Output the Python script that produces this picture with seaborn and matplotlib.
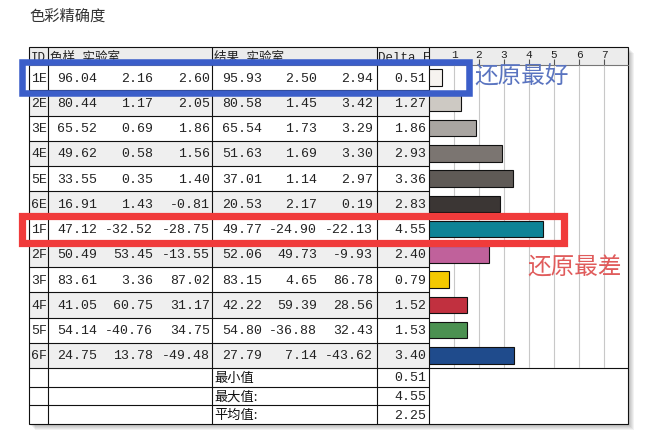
import matplotlib
matplotlib.use('Agg')
import matplotlib.pyplot as plt
import seaborn as sns
import pandas as pd
from matplotlib.patches import Rectangle

ids = ['1E', '2E', '3E', '4E', '5E', '6E', '1F', '2F', '3F', '4F', '5F', '6F']
sample_L = [96.04, 80.44, 65.52, 49.62, 33.55, 16.91, 47.12, 50.49, 83.61, 41.05, 54.14, 24.75]
sample_a = [2.16, 1.17, 0.69, 0.58, 0.35, 1.43, -32.52, 53.45, 3.36, 60.75, -40.76, 13.78]
sample_b = [2.60, 2.05, 1.86, 1.56, 1.40, -0.81, -28.75, -13.55, 87.02, 31.17, 34.75, -49.48]
result_L = [95.93, 80.58, 65.54, 51.63, 37.01, 20.53, 49.77, 52.06, 83.15, 42.22, 54.80, 27.79]
result_a = [2.50, 1.45, 1.73, 1.69, 1.14, 2.17, -24.90, 49.73, 4.65, 59.39, -36.88, 7.14]
result_b = [2.94, 3.42, 3.29, 3.30, 2.97, 0.19, -22.13, -9.93, 86.78, 28.56, 32.43, -43.62]
delta_e = [0.51, 1.27, 1.86, 2.93, 3.36, 2.83, 4.55, 2.40, 0.79, 1.52, 1.53, 3.40]
bar_colors = ['#f6f3ef', '#cdc9c3', '#a9a5a1', '#7b7571', '#5f5a56', '#3b3634',
              '#0e8396', '#c0619b', '#f5c900', '#c1303f', '#4b9151', '#1f4b8c']
headers = ['ID', '色样 实验室', '结果 实验室', 'Delta E']
summary_labels = ['最小值', '最大值:', '平均值:']
summary_values = [0.51, 4.55, 2.25]
x_ticks = [1, 2, 3, 4, 5, 6, 7]

sns.set_theme(style='white')
plt.rcParams['font.family'] = ['Liberation Mono', 'Noto Sans CJK SC', 'DejaVu Sans']

W, H = 647, 435
fig = plt.figure(figsize=(W / 100, H / 100), dpi=100)
fig.patch.set_facecolor('white')

# table background drawn in pixel coordinates
bg = fig.add_axes([0, 0, 1, 1])
bg.set_xlim(0, W)
bg.set_ylim(H, 0)
bg.axis('off')

left, right, top, head_bot = 29, 628, 48, 66
row_h = 25.25
grid_bot = head_bot + row_h * len(ids)
sum_h = 18.7
bottom = grid_bot + sum_h * len(summary_labels)
chart_x = 429
col_lines = [48, 212, 377, chart_x]

# shadow
for k in range(1, 7):
    bg.add_patch(Rectangle((left + k, top + k), right - left, bottom - top,
                           fc='#000000', ec='none', alpha=0.05))
bg.add_patch(Rectangle((left, top), right - left, bottom - top, fc='white', ec='none'))
bg.add_patch(Rectangle((left, top), right - left, head_bot - top, fc='#ececec', ec='none'))
for i in range(1, len(ids), 2):
    bg.add_patch(Rectangle((left, head_bot + i * row_h), chart_x - left, row_h,
                           fc='#efefef', ec='none'))

lc = '#111111'
for i in range(1, len(ids)):
    y = head_bot + i * row_h
    bg.plot([left, chart_x], [y, y], color=lc, lw=0.8)
bg.plot([left, right], [head_bot, head_bot], color='#777777', lw=0.8)
bg.plot([left, right], [grid_bot, grid_bot], color=lc, lw=0.8)
for j in range(1, len(summary_labels)):
    y = grid_bot + j * sum_h
    bg.plot([left, chart_x], [y, y], color=lc, lw=0.8)
for x in col_lines:
    bg.plot([x, x], [top, bottom], color=lc, lw=0.8)
bg.add_patch(Rectangle((left, top), right - left, bottom - top, fill=False, ec=lc, lw=0.8))

# header
head_x = [30.5, 50, 214, 378]
for hx, ht in zip(head_x, headers):
    bg.text(hx, 58, ht, ha='left', va='center', fontsize=9, color='#222222')

# cells
value_cols = [sample_L, sample_a, sample_b, result_L, result_a, result_b, delta_e]
value_x = [97, 153, 210, 262, 317, 373, 426]
for i, rid in enumerate(ids):
    yc = head_bot + (i + 0.5) * row_h
    bg.text(31, yc, rid, ha='left', va='center', fontsize=9.5, color='#222222')
    for vals, vx in zip(value_cols, value_x):
        bg.text(vx, yc, f'{vals[i]:.2f}', ha='right', va='center', fontsize=9.5,
                color='#222222')

for j, (lab, val) in enumerate(zip(summary_labels, summary_values)):
    yc = grid_bot + (j + 0.5) * sum_h
    bg.text(214, yc, lab, ha='left', va='center', fontsize=9.5, color='#111111',
            family=['Noto Sans CJK SC', 'DejaVu Sans'])
    bg.text(426, yc, f'{val:.2f}', ha='right', va='center', fontsize=9.5, color='#222222')

# title
bg.text(left, 16, '色彩精确度', ha='left', va='center', fontsize=11, color='#333333',
        family=['Noto Sans CJK SC', 'DejaVu Sans'])

# bar chart
df = pd.DataFrame({'id': ids, 'delta': delta_e})
ax = fig.add_axes([chart_x / W, 1 - grid_bot / H, (right - chart_x) / W, (grid_bot - head_bot) / H])
sns.barplot(data=df, x='delta', y='id', hue='id', palette=bar_colors, orient='h',
            width=0.66, saturation=1, edgecolor='#111111', linewidth=0.8, legend=False, ax=ax)
ax.set_xlim(0, (right - chart_x) / 25)
ax.set_ylim(len(ids) - 0.5, -0.5)
ax.set_xticks(x_ticks)
ax.xaxis.tick_top()
ax.tick_params(axis='x', top=True, bottom=False, direction='out', length=4, width=0.8,
               color='#555555', pad=0.5, labelsize=8, labelcolor='#222222')
ax.set_yticks([])
ax.set_xlabel('')
ax.set_ylabel('')
ax.grid(axis='x', color='#c8c8c8', lw=0.8)
ax.set_axisbelow(True)
for s in ax.spines.values():
    s.set_visible(False)
ax.patch.set_alpha(0)

# annotations
ov = fig.add_axes([0, 0, 1, 1])
ov.set_xlim(0, W)
ov.set_ylim(H, 0)
ov.axis('off')
ov.patch.set_alpha(0)
ov.add_patch(Rectangle((21.5, 62.5), 447, 31.5, fill=False, ec='#3b5ec9', lw=4.7))
ov.add_patch(Rectangle((21.5, 216.5), 542, 27.5, fill=False, ec='#f03b3b', lw=5.2))
ov.text(474, 77, '还原最好', ha='left', va='center', fontsize=17, color='#5a74c0',
        family=['Noto Sans CJK SC', 'DejaVu Sans'])
ov.text(527, 268, '还原最差', ha='left', va='center', fontsize=17, color='#e05c5c',
        family=['Noto Sans CJK SC', 'DejaVu Sans'])

fig.savefig('out.png', dpi=100)
